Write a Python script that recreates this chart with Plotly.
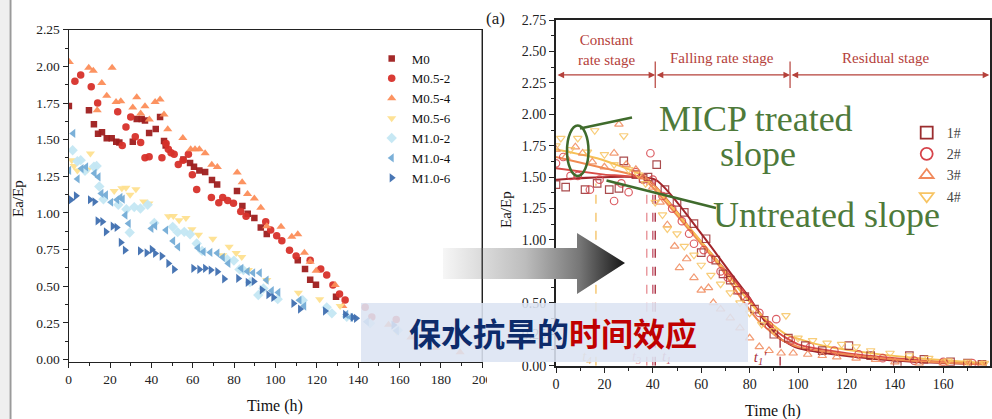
import plotly.graph_objects as go

W, H = 992, 419
def px(x): return x / W
def py(y): return 1 - y / H

SERIF = "Liberation Serif"

# ---------------- Left chart data (Time h, Ea/Ep) ----------------
left_names = ["M0", "M0.5-2", "M0.5-4", "M0.5-6", "M1.0-2", "M1.0-4", "M1.0-6"]
m0_t = [0.1, 9.8, 12.2, 14.2, 16.1, 18.4, 20.8, 23.0, 24.5, 31.0, 32.9, 35.3, 36.9, 38.9, 42.1, 44.2, 46.1, 46.9,
        55.5, 58.7, 60.6, 63.2, 66.0, 69.3, 71.8, 81.4, 84.0, 86.6, 89.8, 92.9, 95.8, 110.8, 114.3, 116.8, 119.6, 129.3]
m0_v = [1.73, 1.70, 1.605, 1.54, 1.55, 1.51, 1.51, 1.485, 1.48, 1.485, 1.64, 1.64, 1.63, 1.546, 1.573, 1.655, 1.49, 1.46,
        1.365, 1.34, 1.315, 1.29, 1.28, 1.224, 1.194, 1.15, 1.048, 0.995, 0.965, 0.90, 0.857, 0.678, 0.617, 0.545, 0.51, 0.428]
m052_t = [3.0, 5.8, 10.9, 14.0, 23.7, 25.9, 27.7, 30.0, 32.2, 34.8, 36.9, 38.9, 45.1, 47.1, 48.2, 49.5, 51.0, 53.0, 55.3,
          57.9, 59.8, 61.9, 69.0, 72.6, 74.5, 76.9, 79.7, 83.2, 85.8, 95.3, 97.7, 100.6, 103.1, 106.8, 110.0, 116.8,
          121.9, 124.8, 127.8, 131.0, 133.7, 143.4, 146.6, 158.4]
m052_v = [1.898, 1.941, 1.86, 1.75, 1.69, 1.46, 1.587, 1.655, 1.519, 1.48, 1.376, 1.383, 1.376, 1.474, 1.435, 1.41, 1.40,
          1.33, 1.36, 1.40, 1.26, 1.16, 1.106, 1.069, 1.106, 1.085, 1.067, 1.01, 0.978, 0.94, 0.883, 0.844, 0.81, 0.746,
          0.706, 0.678, 0.617, 0.576, 0.508, 0.447, 0.407, 0.356, 0.29, 0.274]
m054_t = [0.3, 9.7, 11.9, 13.8, 16.0, 18.4, 21.0, 22.9, 25.2, 31.0, 32.9, 34.8, 36.9, 39.0, 41.8, 44.2, 46.1, 47.9, 55.2,
          59.0, 61.1, 63.2, 66.0, 69.2, 71.9, 81.5, 83.9, 86.5, 89.8, 92.9, 95.8, 102.7, 107.9, 110.8, 114.0, 116.8,
          119.7, 128.9, 132.6, 154.7, 165.5, 177.7, 189.3]
m054_v = [2.03, 1.99, 1.97, 1.70, 1.887, 1.80, 1.99, 1.757, 1.762, 1.719, 1.79, 1.678, 1.728, 1.637, 1.757, 1.774, 1.671,
          1.571, 1.512, 1.435, 1.435, 1.435, 1.408, 1.328, 1.314, 1.276, 1.21, 1.13, 1.099, 1.035, 0.91, 0.905, 0.837,
          0.855, 0.728, 0.667, 0.605, 0.508, 0.365, 0.237, 0.151, 0.08, 0.05]
m056_t = [1.5, 2.6, 4.2, 9.2, 10.5, 22.0, 25.7, 27.7, 29.7, 32.5, 36.3, 38.8, 48.3, 50.6, 53.4, 56.7, 59.6, 62.8, 69.7,
          74.5, 77.6, 81.0, 83.7, 86.9, 95.8, 111.1, 121.4, 131.3, 158.7]
m056_v = [1.36, 1.32, 1.29, 1.296, 1.405, 1.149, 1.169, 1.172, 1.124, 1.161, 1.078, 1.065, 0.978, 0.98, 0.951, 0.965,
          0.888, 0.851, 0.824, 0.712, 0.769, 0.727, 0.70, 0.61, 0.542, 0.455, 0.412, 0.365, 0.19]
m102_t = [1.9, 4.2, 5.8, 7.9, 12.2, 13.5, 14.8, 16.8, 24.0, 27.9, 29.5, 31.7, 34.7, 38.2, 41.4, 50.3, 52.7, 55.9, 58.7,
          61.9, 64.5, 76.7, 79.9, 82.6, 84.5, 87.7, 91.7, 94.2, 101.1, 113.2, 124.8, 127.3, 134.5, 145.8, 159.2]
m102_v = [1.428, 1.353, 1.36, 1.287, 1.315, 1.32, 1.18, 1.093, 1.056, 1.025, 0.867, 1.04, 1.03, 1.056, 0.932, 0.905,
          0.869, 0.871, 0.855, 0.792, 0.741, 0.683, 0.675, 0.615, 0.61, 0.528, 0.44, 0.485, 0.412, 0.405, 0.356, 0.315,
          0.292, 0.247, 0.20]
m104_t = [0.2, 2.2, 4.3, 6.2, 8.4, 12.5, 14.4, 15.8, 18.0, 20.5, 23.4, 25.0, 26.1, 27.4, 29.0, 40.0, 41.8, 47.1, 50.5,
          52.9, 62.5, 65.2, 68.5, 71.9, 74.5, 77.2, 83.5, 86.5, 89.2, 92.4, 95.7, 98.2, 101.4, 111.6, 113.9, 134.2,
          136.5, 144.2, 158.7]
m104_v = [1.29, 1.542, 1.232, 1.303, 1.314, 1.27, 1.246, 1.133, 1.124, 1.073, 1.09, 1.106, 1.094, 0.985, 0.928, 0.894,
          0.912, 0.883, 0.809, 0.769, 0.761, 0.735, 0.731, 0.726, 0.697, 0.656, 0.622, 0.601, 0.592, 0.591, 0.542, 0.47,
          0.458, 0.405, 0.365, 0.308, 0.288, 0.258, 0.196]
m106_t = [1.1, 3.5, 10.3, 12.5, 14.0, 16.3, 18.0, 21.3, 23.2, 25.2, 27.2, 34.5, 37.7, 40.2, 41.8, 45.0, 48.2, 51.0,
          60.3, 63.2, 66.0, 68.7, 71.9, 75.2, 82.0, 86.6, 89.5, 93.4, 96.6, 99.0, 108.7, 111.9, 124.0, 133.7, 137.4,
          139.0, 157.1]
m106_v = [1.09, 1.117, 1.09, 1.076, 0.946, 0.94, 0.871, 0.91, 0.901, 0.799, 0.746, 0.742, 0.728, 0.751, 0.724, 0.706,
          0.656, 0.615, 0.622, 0.615, 0.622, 0.61, 0.599, 0.55, 0.553, 0.527, 0.533, 0.476, 0.442, 0.424, 0.383, 0.344,
          0.331, 0.308, 0.288, 0.281, 0.235]
left_t = [m0_t, m052_t, m054_t, m056_t, m102_t, m104_t, m106_t]
left_v = [m0_v, m052_v, m054_v, m056_v, m102_v, m104_v, m106_v]
left_colors = ["#9e1d1d", "#d7302a", "#fc8d59", "#fee08f", "#c4e7f3", "#74acd6", "#3f6fb0"]
left_symbols = ["square", "circle", "triangle-up", "triangle-down", "diamond", "triangle-left", "triangle-right"]
left_sizes = [6.5, 7.5, 8, 8, 8, 8, 8]

# ---------------- Right chart data ----------------
right_names = ["1#", "2#", "3#", "4#"]
s1_t = [0, 4, 12, 17, 22, 26, 28, 33, 36, 38, 41.6, 45, 50, 53, 57, 60, 62, 66, 69, 72, 75, 78, 82, 86, 90, 96, 103,
        110, 121, 130, 141, 146, 152, 163, 170, 176]
s1_v = [1.44, 1.42, 1.40, 1.45, 1.40, 1.41, 1.63, 1.52, 1.49, 1.50, 1.60, 1.40, 1.30, 1.22, 1.13, 0.90, 1.01, 0.84,
        0.73, 0.68, 0.60, 0.55, 0.45, 0.36, 0.25, 0.22, 0.16, 0.12, 0.16, 0.08, 0.00, 0.08, 0.05, 0.03, 0.02, 0.01]
s2_t = [0, 3, 6, 9, 14, 18, 24, 27, 30, 33, 36, 39, 40, 44, 48, 52, 55, 57, 61, 64, 68, 71, 75, 79, 84, 88, 91, 97,
        105, 115, 125, 135, 148, 160, 172]
s2_v = [1.61, 1.66, 1.51, 1.51, 1.40, 1.48, 1.31, 1.45, 1.38, 1.54, 1.48, 1.69, 1.48, 1.35, 1.25, 1.15, 1.05, 0.97,
        0.92, 0.85, 0.75, 0.70, 0.60, 0.52, 0.42, 0.32, 0.37, 0.20, 0.15, 0.12, 0.09, 0.06, 0.04, 0.03, 0.02]
s3_t = [0, 4, 8, 11, 15, 20, 24, 26, 29, 33, 36, 40, 43, 46, 49, 51, 54, 57, 60, 63, 65, 68, 72, 76, 80, 84, 88, 93,
        98, 104, 110, 116, 124, 132, 140, 150, 160, 170, 176]
s3_v = [1.72, 1.66, 1.74, 1.69, 1.62, 1.58, 1.69, 1.92, 1.60, 1.56, 1.50, 1.42, 1.30, 1.12, 0.95, 0.78, 0.85, 0.70,
        0.60, 0.62, 0.50, 0.45, 0.38, 0.30, 0.22, 0.15, 0.12, 0.10, 0.10, 0.09, 0.08, 0.07, 0.06, 0.05, 0.03, 0.02,
        0.02, 0.01, 0.01]
s4_t = [0, 2, 6, 9, 13, 16, 20, 24, 28, 30, 34, 37, 41, 44, 46, 50, 53, 57, 60, 64, 68, 72, 76, 80, 85, 90, 95, 100,
        106, 112, 118, 124, 130, 138, 146, 154, 162, 170, 177]
s4_v = [1.75, 1.81, 1.72, 1.81, 1.70, 1.87, 1.68, 1.60, 1.83, 1.56, 1.52, 1.45, 1.30, 1.20, 1.09, 1.05, 0.95, 0.88,
        0.80, 0.72, 0.65, 0.58, 0.50, 0.42, 0.33, 0.28, 0.40, 0.22, 0.20, 0.18, 0.17, 0.15, 0.12, 0.10, 0.08, 0.06,
        0.04, 0.03, 0.02]
right_t = [s1_t, s2_t, s3_t, s4_t]
right_v = [s1_v, s2_v, s3_v, s4_v]
right_colors = ["#9b2d2f", "#d6434a", "#f0895c", "#f7c463"]
right_symbols = ["square-open", "circle-open", "triangle-up-open", "triangle-down-open"]

# fitted curves
f1_t = [0, 41, 60, 72, 80, 86, 93, 100, 113, 134, 155, 178]
f1_v = [1.48, 1.48, 1.05, 0.74, 0.54, 0.36, 0.21, 0.14, 0.095, 0.05, 0.025, 0.01]
f2_t = [0, 20, 38, 58, 70, 78, 85, 92, 100, 120, 140, 160, 178]
f2_v = [1.57, 1.52, 1.48, 1.03, 0.76, 0.58, 0.40, 0.26, 0.17, 0.10, 0.06, 0.03, 0.015]
f3_t = [0, 20, 36, 55, 68, 76, 84, 92, 100, 120, 140, 160, 178]
f3_v = [1.66, 1.57, 1.49, 1.08, 0.78, 0.55, 0.35, 0.22, 0.15, 0.09, 0.05, 0.025, 0.01]
f4_t = [0, 17, 37, 55, 68, 76, 85, 95, 110, 130, 150, 178]
f4_v = [1.72, 1.65, 1.50, 1.10, 0.80, 0.60, 0.40, 0.25, 0.16, 0.10, 0.06, 0.02]
fit_t = [f1_t, f2_t, f3_t, f4_t]
fit_v = [f1_v, f2_v, f3_v, f4_v]
fit_colors = ["#a3262b", "#d84b45", "#f08a52", "#f6c055"]

# stage times (dashed markers)
stage_t = [16.5, 37.5, 40.0, 41.0, 92.6]
stage_top = [1.45, 1.49, 1.48, 1.48, 0.26]
stage_colors = ["#f5c46a", "#e8949a", "#c85a70", "#a83040", "#a83040"]
stage_lbl = ["<i>t<sub>4</sub></i>", "<i>t<sub>3</sub></i>", "<i>t<sub>1</sub></i>", "<i>t<sub>2</sub></i>", "<i>t<sub>1</sub>'</i>"]
stage_lbl_t = [12.8, 33.3, 45.7, 46.5, 84.3]
stage_lbl_v = [0.07, 0.07, 0.07, -0.11, 0.06]
stage_lbl_c = ["#e9b673", "#e49aa0", "#c86878", "#b03a4a", "#a83040"]

stage_bounds = [0, 41, 96.7, 179]
stage_names = ["Falling rate stage", "Residual stage"]

fig = go.Figure()

# left chart traces
for name, t, v, c, s, sz in zip(left_names, left_t, left_v, left_colors, left_symbols, left_sizes):
    fig.add_trace(go.Scatter(x=t, y=v, mode="markers", name=name, xaxis="x", yaxis="y",
                             marker=dict(symbol=s, color=c, size=sz, opacity=0.95, line=dict(width=0)),
                             legend="legend"))

# right chart: fitted lines
for t, v, c in zip(fit_t, fit_v, fit_colors):
    fig.add_trace(go.Scatter(x=t, y=v, mode="lines", xaxis="x2", yaxis="y2", showlegend=False,
                             line=dict(color=c, width=2, shape="spline", smoothing=0.5), hoverinfo="skip"))
# right chart: dashed stage lines
for t, top, c in zip(stage_t, stage_top, stage_colors):
    fig.add_trace(go.Scatter(x=[t, t], y=[0, top], mode="lines", xaxis="x2", yaxis="y2", showlegend=False,
                             line=dict(color=c, width=1.4, dash="dash"), hoverinfo="skip"))
# right chart: scatter (legend via larger proxy markers)
for name, t, v, c, s in zip(right_names, right_t, right_v, right_colors, right_symbols):
    fig.add_trace(go.Scatter(x=t, y=v, mode="markers", xaxis="x2", yaxis="y2", showlegend=False,
                             marker=dict(symbol=s, color=c, size=7.5, opacity=0.85, line=dict(width=1.2, color=c))))
    fig.add_trace(go.Scatter(x=[None], y=[None], mode="markers", name=name, xaxis="x2", yaxis="y2",
                             legend="legend2",
                             marker=dict(symbol=s, color=c, size=12, line=dict(width=1.8, color=c))))
# stage time labels
fig.add_trace(go.Scatter(x=stage_lbl_t, y=stage_lbl_v, mode="text", text=stage_lbl, xaxis="x2", yaxis="y2",
                         showlegend=False, cliponaxis=False,
                         textfont=dict(family=SERIF, size=15, color=stage_lbl_c), hoverinfo="skip"))
fig.add_trace(go.Scatter(x=[41.3, 44.5], y=[-0.01, -0.075], mode="lines", xaxis="x2", yaxis="y2",
                         showlegend=False, cliponaxis=False, line=dict(color="#b03a4a", width=1), hoverinfo="skip"))

# gradient arrow (decoration in pixel space)
arrow_x = [443, 577, 577, 625, 577, 577, 443, 443]
arrow_y = [248, 248, 233, 263, 294, 279, 279, 248]
fig.add_trace(go.Scatter(x=arrow_x, y=arrow_y, mode="lines", fill="toself", xaxis="x3", yaxis="y3",
                         showlegend=False, line=dict(width=0, color="rgba(0,0,0,0)"),
                         fillgradient=dict(type="horizontal",
                                           colorscale=[[0, "#f6f6f6"], [0.45, "#bdbdbd"], [0.75, "#777777"], [1, "#161616"]]),
                         hoverinfo="skip"))

axis_common = dict(showgrid=False, zeroline=False, showline=True, mirror=True, ticks="outside",
                   tickcolor="#222", ticklen=5, tickwidth=1.2, automargin=False)

shapes = []
annotations = []

def ann(**kw):
    kw.setdefault("xanchor", "center")
    kw.setdefault("yanchor", "middle")
    kw.setdefault("showarrow", False)
    annotations.append(kw)

# stage arrows and dividers on right chart
for a, b in zip(stage_bounds[:-1], stage_bounds[1:]):
    annotations.append(dict(x=b, y=2.313, ax=a, ay=2.313, xref="x2", yref="y2", axref="x2", ayref="y2",
                            text="", showarrow=True, arrowside="end+start", arrowhead=2, arrowsize=1.1,
                            arrowwidth=1.2, arrowcolor="#b5413b"))
for b in stage_bounds[1:-1]:
    shapes.append(dict(type="line", xref="x2", yref="y2", x0=b, x1=b, y0=2.21, y1=2.42,
                       line=dict(color="#b5413b", width=1.2)))
ann(x=21, y=2.51, xref="x2", yref="y2", text="Constant<br>rate stage",
    font=dict(family=SERIF, size=15, color="#b5413b"))
ann(x=68.6, y=2.448, xref="x2", yref="y2", text=stage_names[0],
    font=dict(family=SERIF, size=15, color="#b5413b"))
ann(x=136.3, y=2.448, xref="x2", yref="y2", text=stage_names[1],
    font=dict(family=SERIF, size=15, color="#b5413b"))

# page edge at left
shapes.append(dict(type="rect", xref="paper", yref="paper", x0=0, x1=px(9), y0=0, y1=1,
                   fillcolor="#efefef", line=dict(width=0), layer="below"))
shapes.append(dict(type="line", xref="paper", yref="paper", x0=px(10.5), x1=px(10.5), y0=0, y1=1,
                   line=dict(color="#9a9a9a", width=2)))
# left chart right frame above everything
shapes.append(dict(type="line", xref="paper", yref="paper", x0=px(482.2), x1=px(482.2), y0=py(361.5), y1=py(29.7),
                   line=dict(color="#222", width=1.3), layer="above"))
# cover for clipped "200"
shapes.append(dict(type="rect", xref="paper", yref="paper", x0=px(487), x1=px(505), y0=py(394), y1=py(371),
                   fillcolor="white", line=dict(width=0), layer="above"))
# banner
shapes.append(dict(type="rect", xref="paper", yref="paper", x0=px(361), x1=px(748), y0=py(362), y1=py(303),
                   fillcolor="rgba(220,228,243,0.88)", line=dict(width=0), layer="above"))
# green ellipse + pointer lines
GREEN = "#3f6b2c"
shapes.append(dict(type="circle", xref="paper", yref="paper", x0=px(567), x1=px(588.5), y0=py(176), y1=py(125.5),
                   line=dict(color=GREEN, width=2.5), layer="above"))
shapes.append(dict(type="line", xref="paper", yref="paper", x0=px(580), x1=px(632), y0=py(128.5), y1=py(117.5),
                   line=dict(color=GREEN, width=2.5), layer="above"))
shapes.append(dict(type="line", xref="paper", yref="paper", x0=px(606.5), x1=px(716), y0=py(180.5), y1=py(208),
                   line=dict(color=GREEN, width=2.5), layer="above"))

TXT_GREEN = "#4e7a3a"
ann(x=px(756), y=py(119), xref="paper", yref="paper", text="MICP treated",
    font=dict(family=SERIF, size=36, color=TXT_GREEN))
ann(x=px(758), y=py(154), xref="paper", yref="paper", text="slope",
    font=dict(family=SERIF, size=36, color=TXT_GREEN))
ann(x=px(826), y=py(215), xref="paper", yref="paper", text="Untreated slope",
    font=dict(family=SERIF, size=36, color=TXT_GREEN))
ann(x=px(553), y=py(332), xref="paper", yref="paper",
    text='<b><span style="color:#0d2b6b">保水抗旱的</span><span style="color:#c00000">时间效应</span></b>',
    font=dict(family="Noto Sans CJK SC", size=32, color="#0d2b6b"))
ann(x=px(495), y=py(19), xref="paper", yref="paper", text="(a)",
    font=dict(family=SERIF, size=17, color="#222"))
ann(x=px(275), y=py(406), xref="paper", yref="paper", text="Time (h)",
    font=dict(family=SERIF, size=16, color="#111"))
ann(x=px(773), y=py(411), xref="paper", yref="paper", text="Time (h)",
    font=dict(family=SERIF, size=16, color="#111"))
ann(x=px(18), y=py(199), xref="paper", yref="paper", text="Ea/Ep", textangle=-90,
    font=dict(family=SERIF, size=15, color="#111"))
ann(x=px(506), y=py(210), xref="paper", yref="paper", text="Ea/Ep", textangle=-90,
    font=dict(family=SERIF, size=15, color="#111"))

fig.update_layout(
    width=W, height=H, margin=dict(l=0, r=0, t=0, b=0, autoexpand=False),
    paper_bgcolor="white", plot_bgcolor="rgba(0,0,0,0)",
    font=dict(family=SERIF, color="#222"),
    xaxis=dict(domain=[px(68.7), px(482.2)], range=[0, 200], anchor="y", dtick=20, tick0=0,
               minor=dict(dtick=10, ticklen=3, ticks="outside", tickcolor="#222"),
               linecolor="#222", linewidth=1.3, tickfont=dict(family=SERIF, size=13.5, color="#222"),
               **axis_common),
    yaxis=dict(domain=[py(361.7), py(29.7)], range=[-0.0147, 2.25], anchor="x", dtick=0.25, tick0=0,
               tickformat=".2f", minor=dict(dtick=0.125, ticklen=3, ticks="outside", tickcolor="#222"),
               linecolor="#222", linewidth=1.3, tickfont=dict(family=SERIF, size=13.5, color="#222"),
               **axis_common),
    xaxis2=dict(domain=[px(556), px(989.5)], range=[0, 179.1], anchor="y2", dtick=20, tick0=0,
                minor=dict(dtick=10, ticklen=3, ticks="outside", tickcolor="#222"),
                linecolor="#222", linewidth=1.8, tickfont=dict(family=SERIF, size=14, color="#222"),
                **axis_common),
    yaxis2=dict(domain=[py(365.7), py(20)], range=[0, 2.75], anchor="x2", dtick=0.25, tick0=0,
                tickformat=".2f", minor=dict(dtick=0.125, ticklen=3, ticks="outside", tickcolor="#222"),
                linecolor="#222", linewidth=1.8, tickfont=dict(family=SERIF, size=14, color="#222"),
                **axis_common),
    xaxis3=dict(domain=[0, 1], range=[0, W], anchor="y3", visible=False, fixedrange=True, automargin=False),
    yaxis3=dict(domain=[0, 1], range=[H, 0], anchor="x3", visible=False, fixedrange=True, automargin=False),
    legend=dict(x=px(371.7), y=py(43.5), xanchor="left", yanchor="top", bgcolor="rgba(0,0,0,0)",
                font=dict(family=SERIF, size=13, color="#111"), tracegroupgap=0),
    legend2=dict(x=px(906.7), y=py(117), xanchor="left", yanchor="top", bgcolor="rgba(0,0,0,0)",
                 font=dict(family=SERIF, size=14, color="#444"), tracegroupgap=0),
    shapes=shapes, annotations=annotations, showlegend=True,
)

fig.write_html("out.html", config={"displayModeBar": False},
               post_script="document.body.style.margin='0';document.body.style.padding='0';"
                           "document.body.style.overflow='hidden';")
